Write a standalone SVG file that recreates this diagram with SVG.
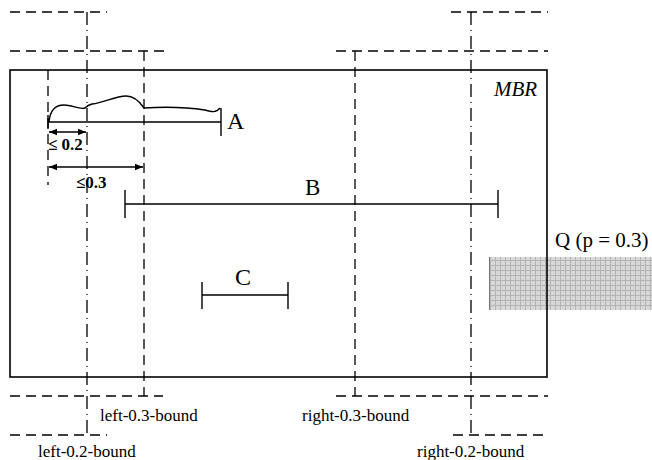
<svg xmlns="http://www.w3.org/2000/svg" width="652" height="460" viewBox="0 0 652 460">
<style>
.box{fill:none;stroke:#000;stroke-width:1.6}
.dash{fill:none;stroke:#000;stroke-width:1.3;stroke-dasharray:10 6}
.dd{fill:none;stroke:#000;stroke-width:1.3;stroke-dasharray:13 5 1 5}
.seg{fill:none;stroke:#000;stroke-width:1.4}
text{font-family:"Liberation Serif","DejaVu Serif",serif;fill:#000}
.lbl{font-size:17px}
</style>
<defs>
<pattern id="grid" width="5" height="5" patternUnits="userSpaceOnUse">
<rect width="5" height="5" fill="#d8d8d8"/>
<path d="M0,0.5H5M0.5,0V5" stroke="#b4b4b4" stroke-width="1"/>
</pattern>
<marker id="ah" viewBox="0 0 10 10" refX="10" refY="5" markerWidth="8" markerHeight="8" orient="auto-start-reverse" markerUnits="userSpaceOnUse">
<path d="M0,1L10,5L0,9z" fill="#000"/>
</marker>
</defs>
<g id="query">
<rect x="489" y="257" width="163" height="53" fill="url(#grid)"/>
<line x1="489.5" y1="257" x2="489.5" y2="310" stroke="#777" stroke-width="1"/>
<text x="555" y="247" font-size="21">Q (p = 0.3)</text>
</g>
<g id="mbr">
<rect class="box" x="10" y="70" width="537" height="307"/>
<text x="494" y="96" font-size="21" font-style="italic">MBR</text>
</g>
<g id="bounds">
<path class="dash" d="M10,12H107M10,51H165M10,396H163M10,435H107"/>
<path class="dash" d="M336,51H548M451,12H548M336,396H548M453,435H548"/>
<path class="dd" d="M87,12V437"/>
<path class="dd" d="M471,12V437"/>
<path class="dash" d="M144,51V396"/>
<path class="dash" d="M355,51V396"/>
<path class="dash" d="M48,70V185"/>
<text class="lbl" x="100" y="421">left-0.3-bound</text>
<text class="lbl" x="302" y="421">right-0.3-bound</text>
<text class="lbl" x="38" y="457">left-0.2-bound</text>
<text class="lbl" x="417" y="457">right-0.2-bound</text>
</g>
<g id="A">
<path class="seg" d="M48,122H221M221,108V136M48,115V129"/>
<path class="seg" d="M49,122 C50,110 56,105 64,105 C72,105 80,110 85,108 C87,106 88,105 92,104 C104,103 115,96 126,96 C134,96 140,102 144,108 C160,107 185,107 205,110 C212,112 216,113 220,108"/>
<text x="227" y="129" font-size="24">A</text>
</g>
<g id="measures">
<line class="seg" x1="49" y1="132" x2="86" y2="132" marker-start="url(#ah)" marker-end="url(#ah)"/>
<text x="48" y="150" font-size="17" font-weight="bold">≤ 0.2</text>
<line class="seg" x1="49" y1="167" x2="143" y2="167" marker-start="url(#ah)" marker-end="url(#ah)"/>
<text x="76" y="188" font-size="17" font-weight="bold">≤0.3</text>
</g>
<g id="B">
<path class="seg" d="M125,204H498M125,190V218M498,190V218"/>
<text x="305" y="195" font-size="23">B</text>
</g>
<g id="C">
<path class="seg" d="M202,295H288M202,282V309M288,282V309"/>
<text x="235" y="285" font-size="24">C</text>
</g>
</svg>
